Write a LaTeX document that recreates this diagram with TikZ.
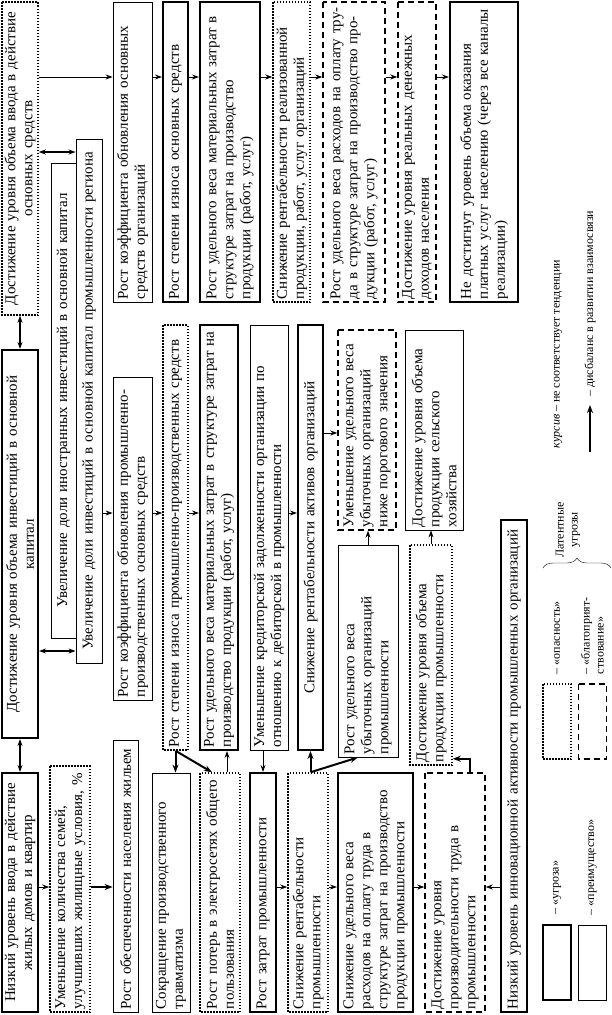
\documentclass[tikz,border=0pt]{standalone}
\usepackage{fontspec}
\setmainfont{Liberation Serif}
\usepackage{tikz}
\usetikzlibrary{arrows.meta, positioning, decorations.pathreplacing}
\newcommand{\boxfont}{\fontsize{15}{17}\selectfont}
\newcommand{\notefont}{\fontsize{12}{14}\selectfont}
\tikzstyle{card} = [rectangle, rotate=90, inner xsep=3pt, inner ysep=1pt, font=\boxfont, align=left]
\tikzstyle{threat} = [card, draw=black, line width=2.1pt]
\tikzstyle{advantage} = [card, draw=black, line width=0.8pt]
\tikzstyle{danger} = [card, draw=black, line width=1.5pt, dash pattern=on 1.5pt off 1.5pt]
\tikzstyle{favour} = [card, draw=black, line width=1.4pt, dash pattern=on 6pt off 4pt]
\tikzstyle{arrow} = [line width=0.9pt, -{Stealth[length=7pt, width=5pt]}]
\tikzstyle{heavy} = [line width=2pt, -{Stealth[length=8pt, width=6pt]}]
\tikzstyle{mutual} = [line width=1.2pt, {Stealth[length=7pt, width=5pt]}-{Stealth[length=7pt, width=5pt]}]
\tikzstyle{legendtext} = [rotate=90, font=\notefont, inner sep=1pt, align=left]
\begin{document}
\begin{tikzpicture}[x=1pt, y=-1pt]
    \useasboundingbox (0,0) rectangle (611,1015);
    \coordinate (r1) at (0,77);
    \coordinate (r2) at (0,513);
    \coordinate (r3) at (0,887);
    \coordinate (rce) at (0,152);
    \coordinate (rbe) at (0,651);
    \coordinate (rnu) at (0,433);

    % top band
    \node (C) [danger, align=center, minimum width=313, minimum height=36, text width=307pt] at (20,158.5) {Достижение уровня объема ввода в действие\\основных средств};
    \node (F) [advantage, minimum width=300, minimum height=39, text width=294pt] at (132.5,152) {Рост коэффициента обновления основных\\средств организаций};
    \node (H) [threat, minimum width=300, minimum height=25, text width=294pt] at (175.5,152) {Рост степени износа основных средств};
    \node (J) [threat, minimum width=300, minimum height=60, text width=294pt] at (230,152) {Рост удельного веса материальных затрат в\\структуре затрат на производство\\продукции (работ, услуг)};
    \node (L) [danger, minimum width=300, minimum height=37, text width=294pt] at (291.5,152) {Снижение рентабельности реализованной\\продукции, работ, услуг организаций};
    \node (P) [favour, minimum width=300, minimum height=62, text width=294pt] at (354,152) {Рост удельного веса расходов на оплату тру-\\да в структуре затрат на производство про-\\дукции (работ, услуг)};
    \node (Q) [favour, minimum width=300, minimum height=38, text width=294pt] at (417,152) {Достижение уровня реальных денежных\\доходов населения};
    \node (R) [threat, minimum width=300, minimum height=68, text width=294pt] at (484,152) {Не достигнут уровень объема оказания\\платных услуг населению (через все каналы\\реализации)};

    % middle band
    \node (B) [threat, align=center, minimum width=388, minimum height=36, text width=382pt] at (20,544) {Достижение уровня объема инвестиций в основной\\капитал};
    \node (D) [advantage, align=center, minimum width=475, minimum height=25, text width=469pt] at (63.5,400.5) {Увеличение доли иностранных инвестиций в основной капитал};
    \node (E) [advantage, align=center, minimum width=524, minimum height=26, text width=518pt] at (89,401) {Увеличение доли инвестиций в основной капитал промышленности региона};
    \node (G) [advantage, minimum width=323, minimum height=39, text width=317pt] at (132.5,538.5) {Рост коэффициента обновления промышленно-\\производственных основных средств};
    \node (I) [danger, minimum width=425, minimum height=25, text width=419pt] at (175.5,537.5) {Рост степени износа промышленно-производственных средств};
    \node (K) [threat, minimum width=425, minimum height=38, text width=419pt] at (219,537.5) {Рост удельного веса материальных затрат в структуре затрат на\\производство продукции (работ, услуг)};
    \node (M) [advantage, minimum width=425, minimum height=38, text width=419pt] at (269,537.5) {Уменьшение кредиторской задолженности организации по\\отношению к дебиторской в промышленности};
    \node (N) [threat, align=center, minimum width=425, minimum height=25, text width=419pt] at (310.5,537.5) {Снижение рентабельности активов организаций};
    \node (U) [favour, minimum width=200, minimum height=58, text width=194pt] at (367,430) {Уменьшение удельного веса\\убыточных организаций\\ниже порогового значения};
    \node (S) [advantage, minimum width=200, minimum height=58, text width=194pt] at (434,430) {Достижение уровня объема\\продукции сельского\\хозяйства};
    \node (W) [advantage, minimum width=212, minimum height=60, text width=206pt] at (368,651) {Рост удельного веса\\убыточных организаций\\промышленности};
    \node (X) [danger, minimum width=220, minimum height=42, text width=214pt] at (431,655) {Достижение уровня объема\\продукции промышленности};

    % bottom band
    \node (A) [threat, align=center, minimum width=239, minimum height=36, text width=233pt] at (20,892.5) {Низкий уровень ввода в действие\\жилых домов и квартир};
    \node (AA) [danger, minimum width=246, minimum height=40, text width=240pt] at (70,889) {Уменьшение количества семей,\\улучшивших жилищные условия, \%};
    \node (BB) [advantage, minimum width=272, minimum height=25, text width=266pt] at (125.5,876) {Рост обеспеченности населения жильем};
    \node (CC) [advantage, minimum width=239, minimum height=38, text width=233pt] at (171,892.5) {Сокращение производственного\\травматизма};
    \node (DD) [danger, minimum width=239, minimum height=40, text width=233pt] at (220,892.5) {Рост потерь в электросетях общего\\пользования};
    \node (EE) [threat, minimum width=239, minimum height=26, text width=233pt] at (263,892.5) {Рост затрат промышленности};
    \node (V) [danger, minimum width=239, minimum height=40, text width=233pt] at (308,892.5) {Снижение рентабельности\\промышленности};
    \node (Z) [threat, minimum width=239, minimum height=75, text width=233pt] at (375.5,892.5) {Снижение удельного веса\\расходов на оплату труда в\\структуре затрат на производство\\продукции промышленности};
    \node (Y) [favour, minimum width=239, minimum height=60, text width=233pt] at (455,892.5) {Достижение уровня\\производительности труда в\\промышленности};
    \node (T) [threat, minimum width=492, minimum height=26, text width=486pt] at (514,766) {Низкий уровень инновационной активности промышленных организаций};

    % legend
    \node (lg1) [threat, minimum width=75, minimum height=28] at (557,962.5) {};
    \node (lg2) [advantage, minimum width=75, minimum height=28] at (592.5,962.5) {};
    \node (lg3) [danger, minimum width=75, minimum height=28] at (557,721.5) {};
    \node (lg4) [favour, minimum width=75, minimum height=28] at (592.5,721.5) {};
    \node (lt1) [legendtext, anchor=west] at ([yshift=8pt]lg1.east) {– «угроза»};
    \node (lt2) [legendtext, anchor=west] at ([yshift=8pt]lg2.east) {– «преимущество»};
    \node (lt3) [legendtext, anchor=west] at ([yshift=8pt]lg3.east) {– «опасность»};
    \node (lt4) [legendtext, anchor=west] at ([yshift=8pt]lg4.east) {– «благоприят-\\ствование»};
    \node (lat) [legendtext, align=center] at (568,530) {Латентные\\угрозы};
    \draw [decorate, decoration={brace, amplitude=10pt}] (543,568) -- (611,568);
    \node (kur) [legendtext] at (558,354) {\textit{курсив} – не соответствует тенденции};
    \coordinate (la1) at (590,452);
    \coordinate (la2) at (590,405);
    \node (dis) [legendtext, anchor=west] at (590,398) {– дисбаланс в развитии взаимосвязи};
    \draw [heavy] (la1) -- (la2);

    % top band links
    \draw [arrow] (C.south |- r1) -- (F.north |- r1);
    \draw [arrow] (F.south |- r1) -- (H.north |- r1);
    \draw [arrow] (H.south |- r1) -- (J.north |- r1);
    \draw [arrow] (J.south |- r1) -- (L.north |- r1);
    \draw [arrow] (L.south |- r1) -- (P.north |- r1);
    \draw [arrow] (P.south |- r1) -- (Q.north |- r1);
    \draw [arrow] (Q.south |- r1) -- (R.north |- r1);

    % investments
    \draw [mutual] (C.west) -- (B.east);
    \draw [mutual] (B.west) -- (A.east);
    \draw [mutual] (C.south |- rce) -- (E.north |- rce);
    \draw [mutual] (B.south |- rbe) -- (E.north |- rbe);

    % middle band links
    \draw [arrow] (E.south |- r2) -- (G.north |- r2);
    \draw [arrow] (G.south |- r2) -- (I.north |- r2);
    \draw [arrow] (I.south |- r2) -- (K.north |- r2);
    \draw [arrow] (M.south |- r2) -- (N.north |- r2);
    \draw [arrow] (N.south |- rnu) -- (U.north |- rnu);
    \draw [arrow] (W.east) -- (W.east |- U.west);
    \draw [arrow] (X.east) -- (X.east |- S.west);

    % bottom band links
    \draw [arrow] (A.south |- r3) -- (AA.north |- r3);
    \draw [heavy] (AA.south |- r3) -- (BB.north |- r3);
    \draw [heavy] (I.west) -- (I.west |- CC.east);
    \draw [heavy] (I.west) -- ([xshift=-8pt]DD.east);
    \draw [arrow] ([xshift=7pt]DD.east) -- ([xshift=7pt]DD.east |- K.west);
    \draw [arrow] (EE.east |- M.west) -- (EE.east);
    \draw [arrow] (EE.south |- r3) -- (V.north |- r3);
    \draw [heavy] (N.west |- V.east) -- (N.west);
    \draw [heavy] (N.west |- V.east) -- ([xshift=-10pt]W.west);
    \draw [arrow] (V.south |- r3) -- (Z.north |- r3);
    \draw [arrow] (Z.south |- r3) -- (Y.north |- r3);
    \draw [arrow] (T.north |- r3) -- (Y.south |- r3);
    \draw [heavy] ([xshift=15pt]Y.east) |- ([yshift=7pt]X.south west);
\end{tikzpicture}
\end{document}
